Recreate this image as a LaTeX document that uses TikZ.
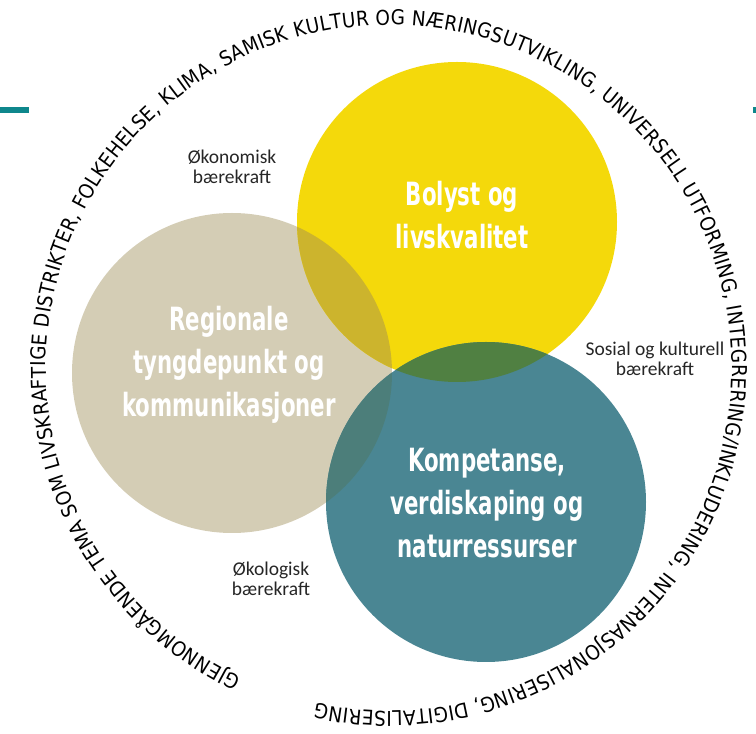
\documentclass[tikz,border=0pt]{standalone}
\usepackage{fontspec}
\setmainfont{DejaVu Sans}
\newfontfamily\titlefont{DejaVu Sans Condensed Bold}[FakeStretch=0.74]
\newfontfamily\labelfont{Carlito}
\newfontfamily\ringfont{DejaVu Sans Condensed}
\usepackage{tikz}
\usetikzlibrary{decorations.text}

\definecolor{bolystyellow}{HTML}{F4D90B}
\definecolor{regionbeige}{HTML}{D4CDB5}
\definecolor{kompteal}{HTML}{4A8693}
\definecolor{goldmix}{HTML}{CCB42D}
\definecolor{greenmix}{HTML}{508042}
\definecolor{tealmix}{HTML}{4C7E7A}
\definecolor{darkmix}{HTML}{4A6E45}
\definecolor{ruleteal}{HTML}{0E878C}

\begin{document}
\begin{tikzpicture}[x=1pt, y=1pt,
    venn/.style={circle, minimum size=320pt, inner sep=0pt},
    title/.style={font=\titlefont\fontsize{32}{43}\selectfont, text=white, align=center},
    pillar/.style={font=\labelfont\fontsize{19.5}{20}\selectfont, text=black!85, align=center}]
    \useasboundingbox (0,0) rectangle (756,734);

    % Lineas de fondo
    \fill[ruleteal] (0,621) rectangle (29,627);
    \fill[ruleteal] (753,621) rectangle (756,627);

    % Definir circulos
    \node (regional) [venn, fill=regionbeige] at (232,361) {};
    \node (bolyst) [venn, fill=bolystyellow] at (457,512) {};
    \node (kompetanse) [venn, fill=kompteal] at (486,232) {};

    % Zonas de solapamiento
    \begin{scope}
        \clip (regional.center) circle[radius=160];
        \fill[goldmix] (bolyst.center) circle[radius=160];
        \fill[tealmix] (kompetanse.center) circle[radius=160];
        \clip (bolyst.center) circle[radius=160];
        \fill[darkmix] (kompetanse.center) circle[radius=160];
    \end{scope}
    \begin{scope}
        \clip (bolyst.center) circle[radius=160];
        \clip (kompetanse.center) circle[radius=160];
        \fill[greenmix] (bolyst.center) circle[radius=170];
        \fill[darkmix] (regional.center) circle[radius=160];
    \end{scope}

    % Titulos de los circulos
    \node (regionaltitle) [title] at (229,369.5) {Regionale\\tyngdepunkt og\\kommunikasjoner};
    \node (bolysttitle) [title] at (462,519) {Bolyst og\\livskvalitet};
    \node (kompetansetitle) [title] at (487,231) {Kompetanse,\\verdiskaping og\\naturressurser};

    % Dimensiones de sostenibilidad
    \node (okonomisk) [pillar] at (232,567.5) {Økonomisk\\bærekraft};
    \node (sosial) [pillar] at (655,375.5) {Sosial og kulturell\\bærekraft};
    \node (okologisk) [pillar] at (271,155.5) {Økologisk\\bærekraft};

    % Texto circular
    \coordinate (ring) at (389,366);
    \path[decorate, decoration={text along path, text align=fit to path,
        text={|\ringfont\fontsize{20.5}{22}\selectfont|GJENNOMGÅENDE TEMA SOM LIVSKRAFTIGE DISTRIKTER, FOLKEHELSE, KLIMA, SAMISK KULTUR OG NÆRINGSUTVIKLING, UNIVERSELL UTFORMING, INTEGRERING/INKLUDERING, INTERNASJONALISERING, DIGITALISERING}}]
        (ring) ++(244.5:343) arc[start angle=244.5, end angle=-102.3, radius=343];
\end{tikzpicture}
\end{document}
